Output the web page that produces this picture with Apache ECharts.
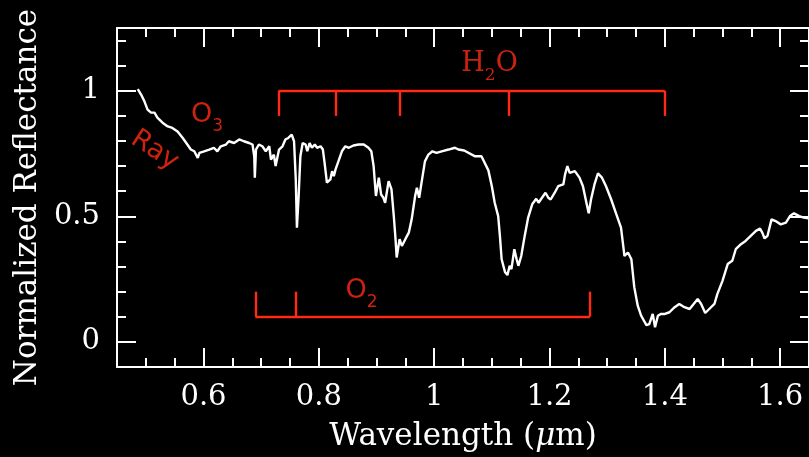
<!DOCTYPE html>
<html>
<head>
<meta charset="utf-8">
<script src="https://cdn.jsdelivr.net/npm/echarts@6/dist/echarts.min.js"></script>
<style>
  html, body { margin: 0; padding: 0; background: #000; }
  #spectrum { width: 809px; height: 457px; }
</style>
</head>
<body>
<div id="spectrum"></div>
<script>
// wavelength (um) and normalized reflectance
const wavelength = [
  0.486, 0.492, 0.4975, 0.503, 0.509, 0.515, 0.520, 0.529, 0.538, 0.546,
  0.555, 0.564, 0.572, 0.578, 0.584, 0.590, 0.593, 0.601, 0.610, 0.618,
  0.624, 0.630, 0.639, 0.644, 0.653, 0.662, 0.670, 0.679, 0.685, 0.688,
  0.689, 0.691, 0.696, 0.702, 0.708, 0.714, 0.717, 0.722, 0.725, 0.731,
  0.737, 0.742, 0.747, 0.753, 0.757, 0.760, 0.762, 0.765, 0.768, 0.772,
  0.777, 0.780, 0.784, 0.788, 0.793, 0.797, 0.803, 0.807, 0.810, 0.814,
  0.820, 0.823, 0.826, 0.829, 0.835, 0.840, 0.846, 0.852, 0.860, 0.869,
  0.878, 0.886, 0.891, 0.895, 0.899, 0.904, 0.908, 0.912, 0.915, 0.921,
  0.926, 0.930, 0.933, 0.935, 0.940, 0.944, 0.950, 0.956, 0.961, 0.967,
  0.970, 0.974, 0.979, 0.984, 0.990, 0.997, 1.004, 1.013, 1.025, 1.036,
  1.042, 1.052, 1.071, 1.082, 1.094, 1.100, 1.105, 1.111, 1.114, 1.117,
  1.123, 1.127, 1.131, 1.134, 1.139, 1.143, 1.146, 1.151, 1.157, 1.163,
  1.170, 1.177, 1.181, 1.187, 1.193, 1.198, 1.202, 1.209, 1.215, 1.224,
  1.227, 1.231, 1.235, 1.244, 1.252, 1.258, 1.264, 1.268, 1.272, 1.278,
  1.284, 1.291, 1.298, 1.307, 1.317, 1.324, 1.330, 1.336, 1.342, 1.347,
  1.353, 1.359, 1.368, 1.373, 1.379, 1.383, 1.388, 1.393, 1.399, 1.408,
  1.417, 1.425, 1.434, 1.443, 1.450, 1.457, 1.463, 1.470, 1.477, 1.486,
  1.491, 1.500, 1.509, 1.517, 1.523, 1.532, 1.540, 1.549, 1.558, 1.565,
  1.569, 1.573, 1.578, 1.585, 1.592, 1.601, 1.610, 1.617, 1.624, 1.633,
  1.641, 1.649
];
const reflectance = [
  1.007, 0.984, 0.958, 0.925, 0.913, 0.913, 0.893, 0.873, 0.858, 0.852,
  0.838, 0.812, 0.786, 0.766, 0.759, 0.733, 0.753, 0.759, 0.766, 0.773,
  0.759, 0.779, 0.786, 0.799, 0.792, 0.806, 0.799, 0.792, 0.786, 0.739,
  0.654, 0.766, 0.786, 0.779, 0.759, 0.779, 0.726, 0.746, 0.700, 0.766,
  0.779, 0.806, 0.812, 0.825, 0.799, 0.647, 0.455, 0.581, 0.739, 0.792,
  0.786, 0.759, 0.792, 0.773, 0.786, 0.773, 0.779, 0.766, 0.713, 0.634,
  0.647, 0.680, 0.660, 0.687, 0.726, 0.759, 0.779, 0.773, 0.782, 0.786,
  0.786, 0.773, 0.759, 0.700, 0.581, 0.654, 0.587, 0.574, 0.554, 0.640,
  0.607, 0.501, 0.409, 0.336, 0.409, 0.382, 0.409, 0.435, 0.488, 0.581,
  0.614, 0.574, 0.647, 0.719, 0.746, 0.759, 0.753, 0.759, 0.766, 0.773,
  0.766, 0.762, 0.739, 0.739, 0.683, 0.620, 0.554, 0.501, 0.422, 0.329,
  0.277, 0.266, 0.303, 0.290, 0.369, 0.329, 0.303, 0.342, 0.422, 0.495,
  0.548, 0.570, 0.554, 0.574, 0.594, 0.574, 0.567, 0.594, 0.620, 0.627,
  0.667, 0.700, 0.673, 0.680, 0.654, 0.620, 0.554, 0.512, 0.567, 0.627,
  0.671, 0.654, 0.620, 0.567, 0.501, 0.455, 0.342, 0.356, 0.329, 0.218,
  0.144, 0.104, 0.067, 0.071, 0.111, 0.058, 0.104, 0.111, 0.111, 0.118,
  0.138, 0.151, 0.138, 0.131, 0.151, 0.171, 0.151, 0.115, 0.131, 0.151,
  0.190, 0.243, 0.310, 0.323, 0.369, 0.389, 0.402, 0.422, 0.442, 0.451,
  0.435, 0.412, 0.422, 0.488, 0.481, 0.468, 0.475, 0.501, 0.512, 0.501,
  0.495, 0.492
];

// axis ticks
const xMajorTicks = [0.6, 0.8, 1.0, 1.2, 1.4, 1.6];
const xMinorTicks = [0.5, 0.55, 0.65, 0.7, 0.75, 0.85, 0.9, 0.95, 1.05, 1.1, 1.15,
  1.25, 1.3, 1.35, 1.45, 1.5, 1.55, 1.65];
const yMajorTicks = [0, 0.5, 1.0];
const yMinorTicks = [-0.1, 0.1, 0.2, 0.3, 0.4, 0.6, 0.7, 0.8, 0.9, 1.1, 1.2];

// absorption band brackets
const h2oBands = [0.73, 0.83, 0.94, 1.13, 1.40];
const h2oBarLevel = [1.0, 0.9];   // bar, tick end
const o2Bands = [0.69, 0.76, 1.27];
const o2BarLevel = [0.1, 0.2];

// annotation labels: [x, y, text]
const noteLabels = [
  [1.096, 1.107, 'H{sub|2}O'],
  [0.874, 0.204, 'O{sub|2}'],
  [0.606, 0.905, 'O{sub|3}'],
  [0.515, 0.762, 'Ray']
];

const RED = '#ff2a12';
const FONT = 'DejaVu Serif';
const NOTE_FONT = ['DejaVu Serif', 'DejaVu Sans', 'DejaVu Sans', 'DejaVu Sans'];
const NOTE_ROTATE = [0, 0, 0, -33];

const bracketLines = (bands, level) => {
  const out = [[{ coord: [bands[0], level[0]] }, { coord: [bands[bands.length - 1], level[0]] }]];
  bands.forEach(b => out.push([{ coord: [b, level[0]] }, { coord: [b, level[1]] }]));
  return out;
};

const tickAxis = (base, ticks, len, pos) => Object.assign({
  type: 'value',
  position: pos,
  axisLine: { show: false, onZero: false },
  axisTick: { show: true, inside: true, length: len, customValues: ticks, lineStyle: { color: '#fff', width: 2 } },
  axisLabel: { show: false },
  splitLine: { show: false }
}, base);

const frameLine = { show: true, onZero: false, lineStyle: { color: '#fff', width: 2 } };

const xRange = { min: 0.45, max: 1.65 };
const yRange = { min: -0.1, max: 1.25 };

const chart = echarts.init(document.getElementById('spectrum'));

const option = {
  backgroundColor: '#000',
  animation: false,
  grid: { left: 117, top: 28, width: 695, height: 340 },
  xAxis: [
    {
      type: 'value', ...xRange, position: 'bottom',
      axisLine: frameLine,
      axisTick: { show: true, inside: true, length: 19, customValues: xMajorTicks, lineStyle: { color: '#fff', width: 2 } },
      axisLabel: { customValues: xMajorTicks, color: '#fff', fontFamily: FONT, fontSize: 29, margin: 16 },
      splitLine: { show: false },
      name: 'Wavelength ({it|μ}m)',
      nameLocation: 'middle',
      nameGap: 54,
      nameTextStyle: {
        color: '#fff', fontFamily: FONT, fontSize: 31,
        rich: { it: { color: '#fff', fontFamily: FONT, fontSize: 31, fontStyle: 'italic' } }
      }
    },
    tickAxis(xRange, xMinorTicks, 9, 'bottom'),
    Object.assign(tickAxis(xRange, xMajorTicks, 19, 'top'), { axisLine: frameLine }),
    tickAxis(xRange, xMinorTicks, 9, 'top')
  ],
  yAxis: [
    {
      type: 'value', ...yRange, position: 'left',
      axisLine: frameLine,
      axisTick: { show: true, inside: true, length: 19, customValues: yMajorTicks, lineStyle: { color: '#fff', width: 2 } },
      axisLabel: { customValues: yMajorTicks, color: '#fff', fontFamily: FONT, fontSize: 29, margin: 17 },
      splitLine: { show: false },
      name: 'Normalized Reflectance',
      nameLocation: 'middle',
      nameGap: 68,
      nameTextStyle: { color: '#fff', fontFamily: FONT, fontSize: 31 }
    },
    tickAxis(yRange, yMinorTicks, 9, 'left'),
    Object.assign(tickAxis(yRange, yMajorTicks, 19, 'right'), { axisLine: frameLine }),
    tickAxis(yRange, yMinorTicks, 9, 'right')
  ],
  series: [
    {
      name: 'spectrum',
      type: 'line',
      data: wavelength.map((w, i) => [w, reflectance[i]]),
      showSymbol: false,
      lineStyle: { color: '#fff', width: 2.4 },
      markLine: {
        silent: true,
        symbol: 'none',
        label: { show: false },
        lineStyle: { color: RED, width: 2.4, type: 'solid', opacity: 1 },
        data: bracketLines(h2oBands, h2oBarLevel).concat(bracketLines(o2Bands, o2BarLevel))
      }
    },
    {
      name: 'notes',
      type: 'scatter',
      symbolSize: 0,
      silent: true,
      data: noteLabels.map((n, i) => ({
        value: [n[0], n[1]],
        label: {
          show: true, formatter: n[2], rotate: NOTE_ROTATE[i], fontFamily: NOTE_FONT[i],
          rich: { sub: { fontSize: 17, lineHeight: 40, verticalAlign: 'bottom', color: RED, fontFamily: NOTE_FONT[i] } }
        }
      })),
      label: {
        position: 'inside',
        color: RED,
        fontSize: 27,
        lineHeight: 28,
        verticalAlign: 'middle'
      }
    }
  ]
};

chart.setOption(option);
</script>
</body>
</html>
